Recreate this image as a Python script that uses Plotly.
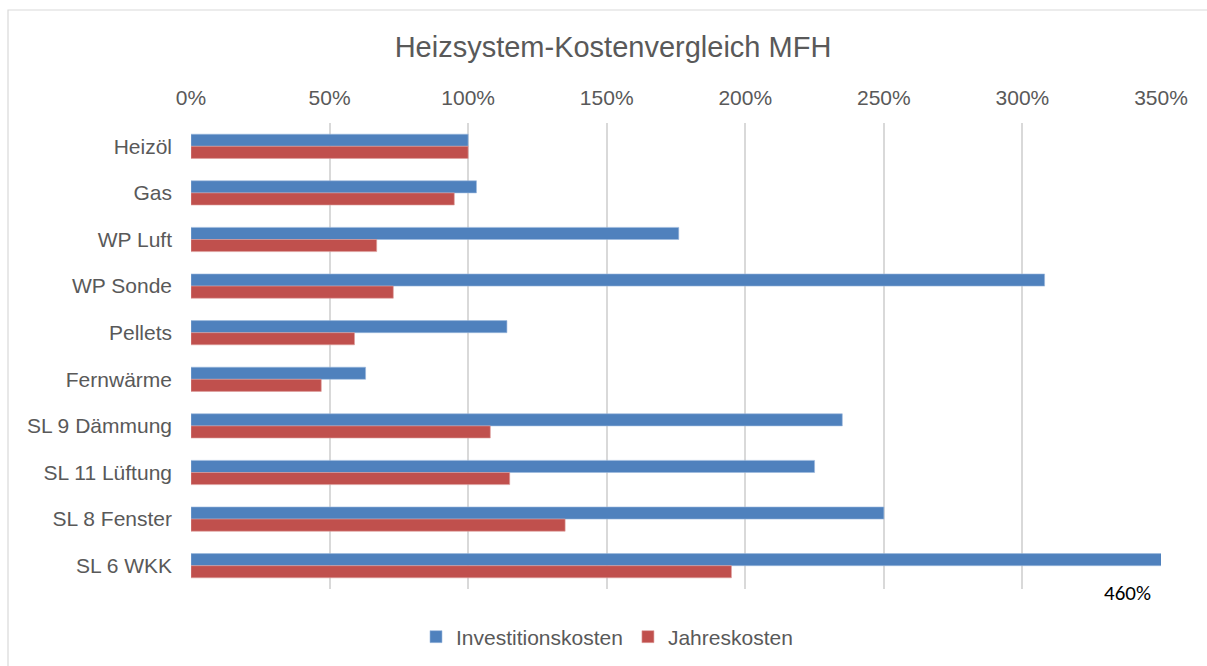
import plotly.graph_objects as go

categories = ["Heizöl", "Gas", "WP Luft", "WP Sonde", "Pellets", "Fernwärme",
              "SL 9 Dämmung", "SL 11 Lüftung", "SL 8 Fenster", "SL 6 WKK"]
investitionskosten = [1.00, 1.03, 1.76, 3.08, 1.14, 0.63, 2.35, 2.25, 2.50, 4.60]
jahreskosten = [1.00, 0.95, 0.67, 0.73, 0.59, 0.47, 1.08, 1.15, 1.35, 1.95]
x_ticks = [0, 0.5, 1.0, 1.5, 2.0, 2.5, 3.0, 3.5]
overflow_label = "460%"

W, H = 1207, 666
ML, MR, MT, MB = 191, 46, 123, 77
TXT = "#595959"
FONT = "Liberation Sans"

fig = go.Figure()
fig.add_trace(go.Bar(y=categories, x=investitionskosten, orientation="h",
                     name="Investitionskosten", marker_color="#4F81BD",
                     marker_line=dict(width=0.6, color="#9CB8DD")))
fig.add_trace(go.Bar(y=categories, x=jahreskosten, orientation="h",
                     name="Jahreskosten", marker_color="#C0504D",
                     marker_line=dict(width=0.6, color="#DE9F9D")))

pw = W - ML - MR
ph = H - MT - MB
def px2paperx(p):
    return (p - ML) / pw
def py2papery(p):
    return (H - MB - p) / ph

fig.add_shape(type="rect", xref="paper", yref="paper",
              x0=px2paperx(8), x1=px2paperx(1215), y0=py2papery(680), y1=py2papery(10),
              line=dict(color="#D9D9D9", width=1.2), fillcolor="rgba(0,0,0,0)", layer="below")

fig.add_annotation(x=x_ticks[-1], y=0, xref="x", yref="paper", text=overflow_label,
                   showarrow=False, xanchor="right", yanchor="middle", xshift=-8,
                   yshift=-(593 - (H - MB)),
                   font=dict(family="Carlito, Calibri, Liberation Sans", size=21, color="#000000"))

fig.update_layout(
    width=W, height=H,
    margin=dict(l=ML, r=MR, t=MT, b=MB, autoexpand=False),
    paper_bgcolor="white", plot_bgcolor="white",
    barmode="group", bargap=0.48, bargroupgap=0,
    font=dict(family=FONT, color=TXT, size=21),
    title=dict(text="Heizsystem-Kostenvergleich MFH", x=px2paperx(613), xref="paper",
               xanchor="center", y=1 - 47 / H, yanchor="middle",
               font=dict(family=FONT, size=29, color=TXT)),
    xaxis=dict(side="top", range=[0, 3.5], tickvals=x_ticks, tickformat=".0%",
               showgrid=True, gridcolor="#D9D9D9", gridwidth=1.5, zeroline=False,
               showline=False, ticks="", ticklabelstandoff=13,
               tickfont=dict(family=FONT, size=21, color=TXT)),
    yaxis=dict(autorange="reversed", showgrid=False, zeroline=False, showline=False,
               ticks="", ticklabelstandoff=18,
               tickfont=dict(family=FONT, size=21, color=TXT)),
    legend=dict(orientation="h", x=px2paperx(607), xref="paper", xanchor="center",
                y=py2papery(637), yanchor="middle",
                font=dict(family=FONT, size=21, color=TXT), itemwidth=30,
                traceorder="normal"),
    showlegend=True,
)
fig.write_html("out.html", post_script="document.body.style.margin='0px';",
               config={"displayModeBar": False})
